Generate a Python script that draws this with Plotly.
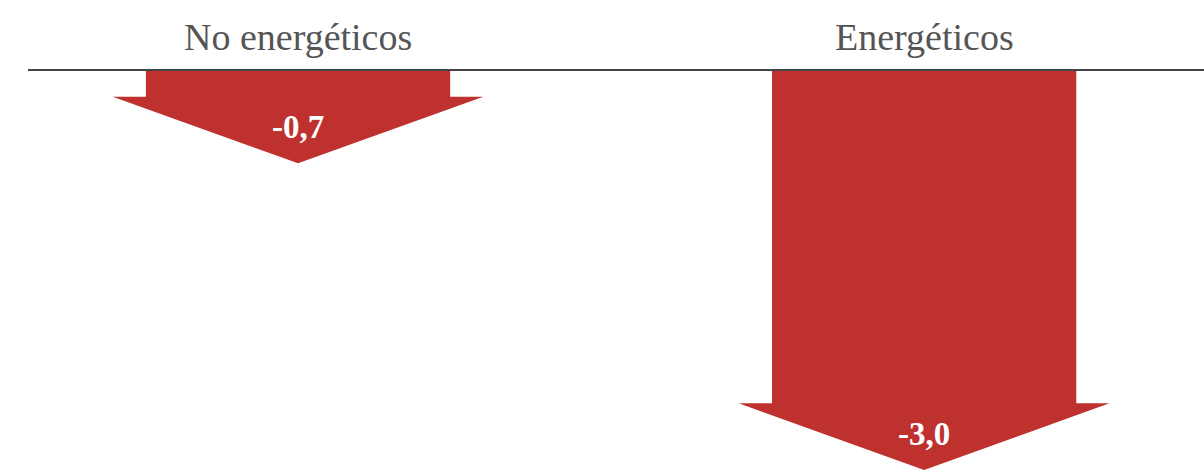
import plotly.graph_objects as go

categories = ["No energéticos", "Energéticos"]
values = [-0.7, -3.0]
value_labels = ["-0,7", "-3,0"]

RED = "#BE312E"
SHAFT_HALF = 0.243
HEAD_HALF = 0.296
HEAD_LEN = 0.5
SERIF = "Liberation Serif, Times New Roman, serif"

fig = go.Figure()
for i, (cat, v, lab) in enumerate(zip(categories, values, value_labels)):
    yb = v + HEAD_LEN
    xs = [i - SHAFT_HALF, i + SHAFT_HALF, i + SHAFT_HALF, i + HEAD_HALF, i,
          i - HEAD_HALF, i - SHAFT_HALF, i - SHAFT_HALF]
    ys = [0, 0, yb, yb, v, yb, yb, 0]
    fig.add_trace(go.Scatter(x=xs, y=ys, mode="lines", fill="toself",
                             fillcolor=RED, line=dict(width=0, color=RED),
                             hoverinfo="skip", showlegend=False))
    fig.add_annotation(x=i, y=0, text=cat, showarrow=False, yanchor="bottom",
                       yshift=10, font=dict(family=SERIF, size=38, color="#555555"))
    fig.add_annotation(x=i, y=v + 0.27, text=f"<b>{lab}</b>", showarrow=False,
                       yanchor="middle", font=dict(family=SERIF, size=33, color="white"))

fig.add_shape(type="line", xref="paper", yref="y", x0=28 / 1204, x1=1, y0=0, y1=0,
              line=dict(color="#444444", width=2))

fig.update_layout(
    width=1204, height=472, margin=dict(l=0, r=0, t=0, b=0),
    paper_bgcolor="white", plot_bgcolor="white",
    xaxis=dict(range=[-0.476, 1.447], visible=False, fixedrange=True),
    yaxis=dict(range=[-3.015, 0.525], visible=False, fixedrange=True),
)
fig.write_html("out.html", post_script="document.body.style.margin='0';",
               config={"displayModeBar": False})
